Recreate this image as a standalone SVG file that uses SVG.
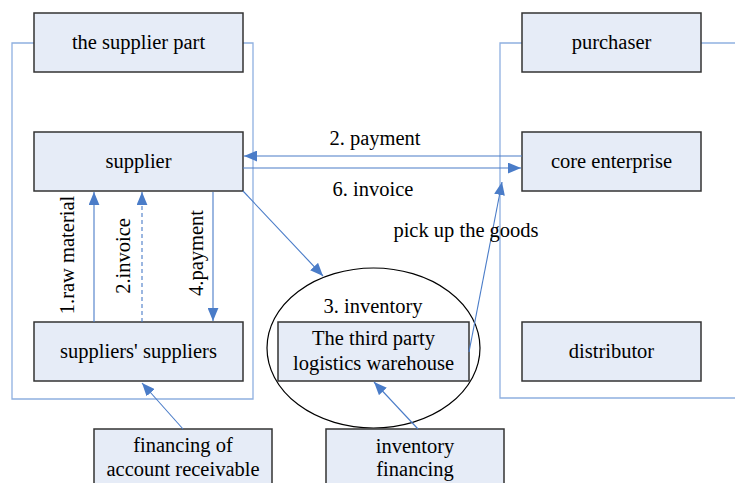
<svg xmlns="http://www.w3.org/2000/svg" width="735" height="483" viewBox="0 0 735 483">
<defs>
<style>
.box{fill:#E6ECF7;stroke:#333;stroke-width:1.5}
.t{font-family:"Liberation Serif","Times New Roman",serif;font-size:20.5px;fill:#000;text-anchor:middle}
.br{fill:none;stroke:#8FB0E0;stroke-width:1.3}
.ar{fill:none;stroke:#4A7CC8;stroke-width:1.1}
</style>
<marker id="ah" viewBox="0 0 12 10" refX="12" refY="5" markerWidth="13" markerHeight="11" markerUnits="userSpaceOnUse" orient="auto">
<path d="M0,0 L12,5 L0,10 z" fill="#4A7CC8"/>
</marker>
</defs>
<rect width="735" height="483" fill="#fff"/>
<g id="brackets">
<polyline class="br" points="34,43 12,43 12,399 253,399 253,43 243,43"/>
<polyline class="br" points="522,43 500,43 500,398 735,398"/>
<line class="br" x1="701" y1="43" x2="735" y2="43"/>
</g>
<g id="supplier-part"><rect class="box" x="34" y="13" width="209" height="59"/><text class="t" x="138.5" y="49">the supplier part</text></g>
<g id="supplier"><rect class="box" x="34" y="132" width="209" height="59"/><text class="t" x="138.5" y="168">supplier</text></g>
<g id="suppliers-suppliers"><rect class="box" x="34" y="322" width="209" height="59"/><text class="t" x="138.5" y="358">suppliers' suppliers</text></g>
<g id="purchaser"><rect class="box" x="522" y="13" width="179" height="59"/><text class="t" x="611.5" y="49">purchaser</text></g>
<g id="core-enterprise"><rect class="box" x="522" y="132" width="179" height="59"/><text class="t" x="611.5" y="168">core enterprise</text></g>
<g id="distributor"><rect class="box" x="522" y="322" width="179" height="59"/><text class="t" x="611.5" y="358">distributor</text></g>
<g id="inventory-circle"><ellipse cx="373.5" cy="348" rx="106.5" ry="80" fill="none" stroke="#000" stroke-width="1.2"/><text class="t" x="373" y="313">3. inventory</text></g>
<g id="warehouse"><rect class="box" x="278" y="322" width="191" height="59"/><text class="t" x="373.5" y="345">The third party</text><text class="t" x="373.5" y="370">logistics warehouse</text></g>
<g id="inventory-financing"><rect class="box" x="326" y="429" width="178" height="62"/><text class="t" x="415" y="453">inventory</text><text class="t" x="415" y="476">financing</text></g>
<g id="account-receivable"><rect class="box" x="94" y="429" width="178" height="62"/><text class="t" x="183" y="452">financing of</text><text class="t" x="183" y="476">account receivable</text></g>
<g id="connectors">
<line class="ar" x1="522" y1="156" x2="244" y2="156" marker-end="url(#ah)"/>
<line class="ar" x1="243" y1="168" x2="521" y2="168" marker-end="url(#ah)"/>
<line class="ar" x1="243" y1="191" x2="323" y2="276" marker-end="url(#ah)"/>
<line class="ar" x1="469" y1="352" x2="502" y2="182" marker-end="url(#ah)"/>
<line class="ar" x1="94" y1="322" x2="94" y2="192" marker-end="url(#ah)"/>
<line class="ar" x1="142" y1="322" x2="142" y2="192" stroke-dasharray="4,3" marker-end="url(#ah)"/>
<line class="ar" x1="213" y1="192" x2="213" y2="321" marker-end="url(#ah)"/>
<line class="ar" x1="183" y1="429" x2="142" y2="383" marker-end="url(#ah)"/>
<line class="ar" x1="418" y1="429" x2="374" y2="382" marker-end="url(#ah)"/>
</g>
<g id="labels">
<text class="t" x="375" y="145">2. payment</text>
<text class="t" x="373" y="196">6. invoice</text>
<text class="t" x="466" y="237">pick up the goods</text>
<text class="t" transform="translate(74,255) rotate(-90)">1.raw material</text>
<text class="t" transform="translate(130,256) rotate(-90)">2.invoice</text>
<text class="t" transform="translate(203,253) rotate(-90)">4.payment</text>
</g>
</svg>
